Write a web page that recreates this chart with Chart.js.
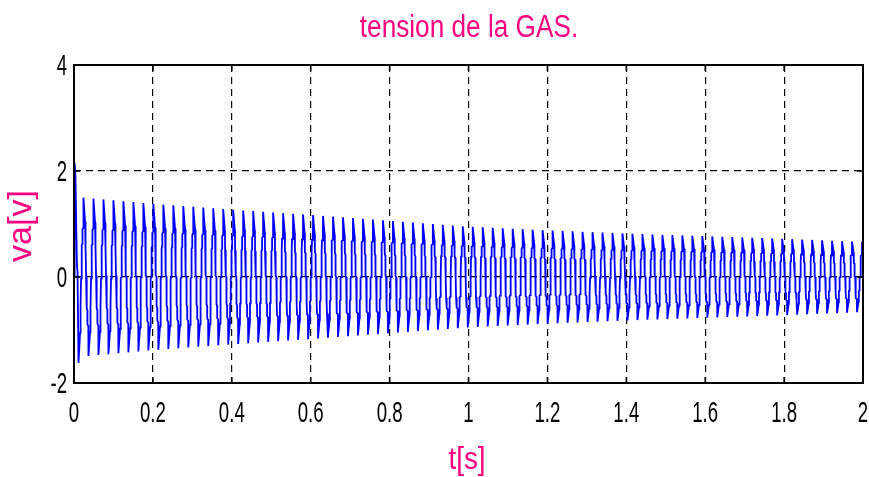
<!DOCTYPE html>
<html>
<head>
<meta charset="utf-8">
<title>tension de la GAS.</title>
<script src="https://cdn.jsdelivr.net/npm/chart.js@4.4.1/dist/chart.umd.min.js"></script>
<style>
    html, body { margin: 0; padding: 0; background: #fff; }
    #wrap { width: 869px; height: 477px; }
</style>
</head>
<body>
<div id="wrap"><canvas id="gasChart" width="869" height="477"></canvas></div>
<script>
// Values
const titleText = 'tension de la GAS.';
const xLabel = 't[s]';
const yLabel = 'va[v]';
const xTicks = [0, 0.2, 0.4, 0.6, 0.8, 1, 1.2, 1.4, 1.6, 1.8, 2];
const yTicks = [-2, 0, 2, 4];

// start-up transient (first ~11 ms)
const startTimes = [0, 0.0015, 0.0035, 0.0075, 0.009, 0.0114];
const startValues = [0, 2.15, 1.95, 0.20, 0.10, -1.62];

// oscillation: period and first positive peak
const period = 0.0253;
const firstPeak = 0.024;

// one cycle of the waveform, normalised to the peak (phase 0 = positive spike)
const cyclePhase = [0.00, 0.16, 0.18, 0.19, 0.25, 0.26, 0.32, 0.33, 0.39, 0.40, 0.49,
                    0.50, 0.66, 0.68, 0.69, 0.75, 0.76, 0.82, 0.83, 0.89, 0.90, 0.99];
const cycleLevel = [1.00, 0.70, 0.68, 0.40, 0.38, 0.02, 0.00, -0.40, -0.42, -0.60, -0.62,
                    -1.00, -0.70, -0.68, -0.40, -0.38, -0.02, 0.00, 0.40, 0.42, 0.60, 0.62];

// peak amplitude envelope
const envTimes = [0.02, 0.2, 0.4, 0.6, 0.8, 1.0, 1.2, 1.4, 1.6, 1.8, 2.0];
const envPeaks = [1.50, 1.38, 1.27, 1.17, 1.06, 0.95, 0.88, 0.82, 0.77, 0.72, 0.66];

const pink = 'rgb(255, 0, 128)';

function peakAt(t) {
    if (t <= envTimes[0]) return envPeaks[0];
    for (let i = 1; i < envTimes.length; i++) {
        if (t <= envTimes[i]) {
            const f = (t - envTimes[i - 1]) / (envTimes[i] - envTimes[i - 1]);
            return envPeaks[i - 1] + f * (envPeaks[i] - envPeaks[i - 1]);
        }
    }
    return envPeaks[envPeaks.length - 1];
}

function buildPoints() {
    const pts = startTimes.map((t, i) => ({ x: t, y: startValues[i] }));
    const tEnd = startTimes[startTimes.length - 1];
    for (let k = -1; firstPeak + k * period < 2; k++) {
        for (let j = 0; j < cyclePhase.length; j++) {
            const t = firstPeak + (k + cyclePhase[j]) * period;
            if (t <= tEnd || t > 2) continue;
            pts.push({ x: t, y: cycleLevel[j] * peakAt(t) });
        }
    }
    return pts;
}

// draws the frame, inner tick marks and all texts in the squeezed matlab look
const matlabDecor = {
    id: 'matlabDecor',
    afterDraw(chart) {
        const ctx = chart.ctx;
        const area = chart.chartArea;
        const xs = chart.scales.x;
        const ys = chart.scales.y;

        ctx.save();
        ctx.strokeStyle = '#000';
        ctx.lineWidth = 1.5;
        ctx.setLineDash([]);
        ctx.beginPath();
        xTicks.forEach(v => {
            const px = xs.getPixelForValue(v);
            ctx.moveTo(px, area.bottom); ctx.lineTo(px, area.bottom - 6);
            ctx.moveTo(px, area.top); ctx.lineTo(px, area.top + 6);
        });
        yTicks.forEach(v => {
            const py = ys.getPixelForValue(v);
            ctx.moveTo(area.left, py); ctx.lineTo(area.left + 6, py);
            ctx.moveTo(area.right, py); ctx.lineTo(area.right - 6, py);
        });
        ctx.stroke();
        ctx.lineWidth = 2;
        ctx.strokeRect(area.left, area.top, area.right - area.left, area.bottom - area.top);

        const squeezed = (text, x, y, size, sx, color, align) => {
            ctx.save();
            ctx.translate(x, y);
            ctx.scale(sx, 1);
            ctx.font = size + 'px "Liberation Sans", Arial, sans-serif';
            ctx.fillStyle = color;
            ctx.textAlign = align;
            ctx.textBaseline = 'middle';
            ctx.fillText(text, 0, 0);
            ctx.restore();
        };

        xTicks.forEach(v => {
            squeezed(String(v), xs.getPixelForValue(v), 414, 30, 0.62, '#000', 'center');
        });
        yTicks.forEach(v => {
            squeezed(String(v), 67, ys.getPixelForValue(v) + 2, 30, 0.62, '#000', 'right');
        });

        squeezed(titleText, 469, 28, 31, 0.845, pink, 'center');
        squeezed(xLabel, 467, 460, 31, 0.9, pink, 'center');

        ctx.save();
        ctx.translate(22, 226);
        ctx.rotate(-Math.PI / 2);
        ctx.font = '34px "Liberation Sans", Arial, sans-serif';
        ctx.fillStyle = pink;
        ctx.textAlign = 'center';
        ctx.textBaseline = 'middle';
        ctx.fillText(yLabel, 0, 0);
        ctx.restore();

        ctx.restore();
    }
};

const ctx = document.getElementById('gasChart').getContext('2d');
const gasChart = new Chart(ctx, {
    type: 'line',
    data: {
        datasets: [{
            label: 'va',
            data: buildPoints(),
            borderColor: '#0000FF',
            borderWidth: 1.8,
            pointRadius: 0,
            tension: 0,
            fill: false
        }]
    },
    options: {
        responsive: false,
        animation: false,
        parsing: false,
        layout: { padding: { left: 74, right: 6, top: 65, bottom: 94 } },
        plugins: {
            legend: { display: false },
            tooltip: { enabled: false },
            title: { display: false }
        },
        scales: {
            x: {
                type: 'linear',
                min: 0,
                max: 2,
                afterBuildTicks: axis => { axis.ticks = xTicks.map(v => ({ value: v })); },
                ticks: { display: false },
                grid: { color: '#000', lineWidth: 1.2, drawTicks: false },
                border: { display: false, dash: [7, 5] }
            },
            y: {
                type: 'linear',
                min: -2,
                max: 4,
                afterBuildTicks: axis => { axis.ticks = yTicks.map(v => ({ value: v })); },
                ticks: { display: false },
                grid: { color: '#000', lineWidth: 1.2, drawTicks: false },
                border: { display: false, dash: [7, 5] }
            }
        }
    },
    plugins: [matlabDecor]
});
</script>
</body>
</html>
